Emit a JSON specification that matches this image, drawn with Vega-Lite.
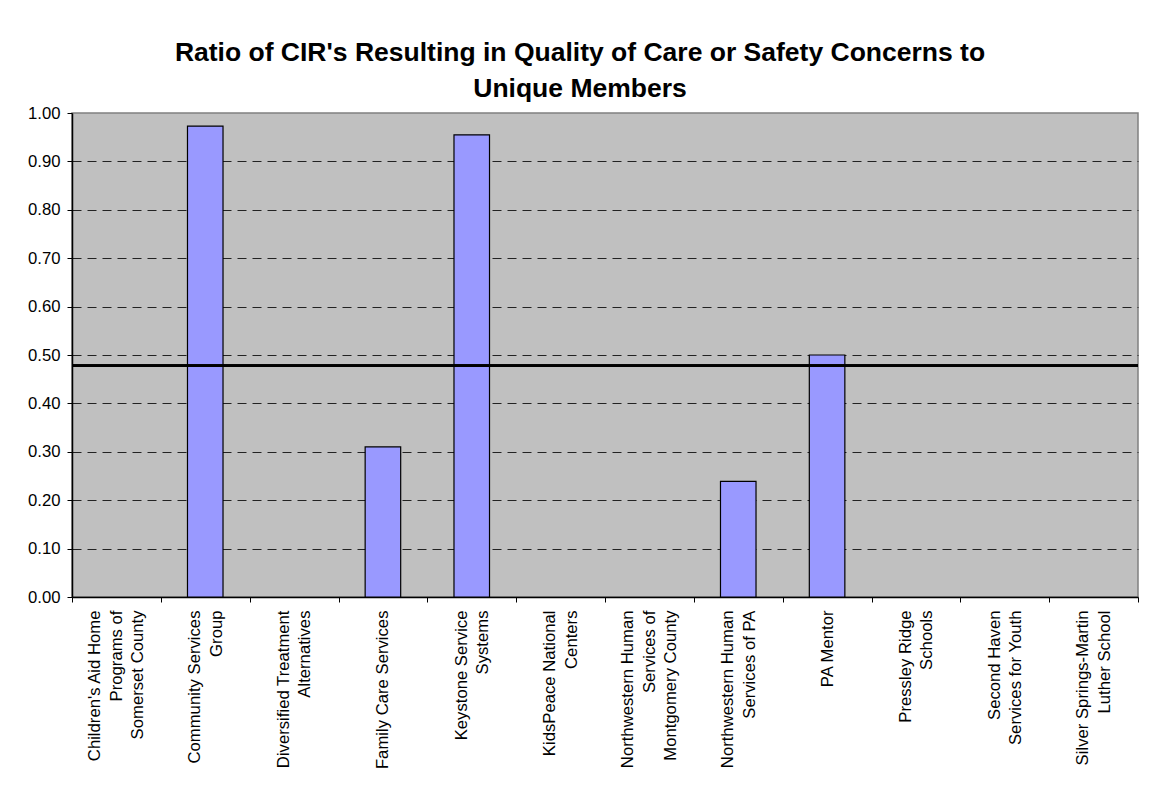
{
  "$schema": "https://vega.github.io/schema/vega-lite/v6.json",
  "width": 1066,
  "height": 484,
  "autosize": "none",
  "padding": {"left": 72, "top": 113, "right": 13, "bottom": 193},
  "background": "white",
  "title": {
    "text": ["Ratio of CIR's Resulting in Quality of Care or Safety Concerns to", "Unique Members"],
    "font": "Liberation Sans",
    "fontSize": 26.5,
    "fontWeight": "bold",
    "color": "black",
    "anchor": "middle",
    "frame": "group",
    "lineHeight": 36,
    "offset": 3,
    "dx": -25
  },
  "config": {
    "view": {"fill": "#C0C0C0", "stroke": "#808080", "strokeWidth": 1.5},
    "axis": {"labelFont": "Liberation Sans", "labelColor": "black", "domainColor": "black", "tickColor": "black"}
  },
  "data": {
    "values": [
      {"provider": "Children's Aid Home\nPrograms of\nSomerset County", "ratio": null},
      {"provider": "Community Services\nGroup", "ratio": 0.973},
      {"provider": "Diversified Treatment\nAlternatives", "ratio": null},
      {"provider": "Family Care Services", "ratio": 0.31},
      {"provider": "Keystone Service\nSystems", "ratio": 0.955},
      {"provider": "KidsPeace National\nCenters", "ratio": null},
      {"provider": "Northwestern Human\nServices of\nMontgomery County", "ratio": null},
      {"provider": "Northwestern Human\nServices of PA", "ratio": 0.239},
      {"provider": "PA Mentor", "ratio": 0.5},
      {"provider": "Pressley Ridge\nSchools", "ratio": null},
      {"provider": "Second Haven\nServices for Youth", "ratio": null},
      {"provider": "Silver Springs-Martin\nLuther School", "ratio": null}
    ]
  },
  "encoding": {
    "y": {
      "field": "ratio",
      "type": "quantitative",
      "scale": {"domain": [0, 1], "nice": false, "zero": true},
      "axis": {
        "title": null,
        "values": [0, 0.1, 0.2, 0.3, 0.4, 0.5, 0.6, 0.7, 0.8, 0.9, 1.0],
        "format": ".2f",
        "labelFontSize": 16.7,
        "labelPadding": 7,
        "tickSize": 5,
        "domainWidth": 1.5,
        "grid": true,
        "gridColor": "#222222",
        "gridDash": [9, 6],
        "gridWidth": 1,
        "gridOpacity": {"condition": {"test": "datum.value <= 0 || datum.value >= 1", "value": 0}, "value": 1}
      }
    }
  },
  "layer": [
    {
      "mark": {"type": "bar", "color": "#9999FF", "stroke": "black", "strokeWidth": 1.2, "width": {"band": 0.4}},
      "encoding": {
        "x": {
          "field": "provider",
          "type": "nominal",
          "sort": null,
          "scale": {
            "domain": [
              "Children's Aid Home\nPrograms of\nSomerset County",
              "Community Services\nGroup",
              "Diversified Treatment\nAlternatives",
              "Family Care Services",
              "Keystone Service\nSystems",
              "KidsPeace National\nCenters",
              "Northwestern Human\nServices of\nMontgomery County",
              "Northwestern Human\nServices of PA",
              "PA Mentor",
              "Pressley Ridge\nSchools",
              "Second Haven\nServices for Youth",
              "Silver Springs-Martin\nLuther School"
            ],
            "paddingInner": 0,
            "paddingOuter": 0
          },
          "axis": {
            "title": null,
            "labelAngle": -90,
            "labelAlign": "right",
            "labelBaseline": "middle",
            "labelFontSize": 16.7,
            "labelLineHeight": 21.5,
            "labelLimit": 400,
            "labelPadding": 8,
            "labelExpr": "split(datum.label, '\\n')",
            "labelOffset": {
              "condition": [
                {"test": "length(split(datum.value, '\\n')) == 3", "value": -21.5},
                {"test": "length(split(datum.value, '\\n')) == 2", "value": -10.75}
              ],
              "value": 0
            },
            "tickBand": "extent",
            "tickSize": 5,
            "domainWidth": 1.5,
            "grid": false
          }
        }
      }
    },
    {
      "mark": {"type": "rule", "color": "black", "strokeWidth": 2.5},
      "encoding": {"y": {"datum": 0.478}}
    }
  ]
}
